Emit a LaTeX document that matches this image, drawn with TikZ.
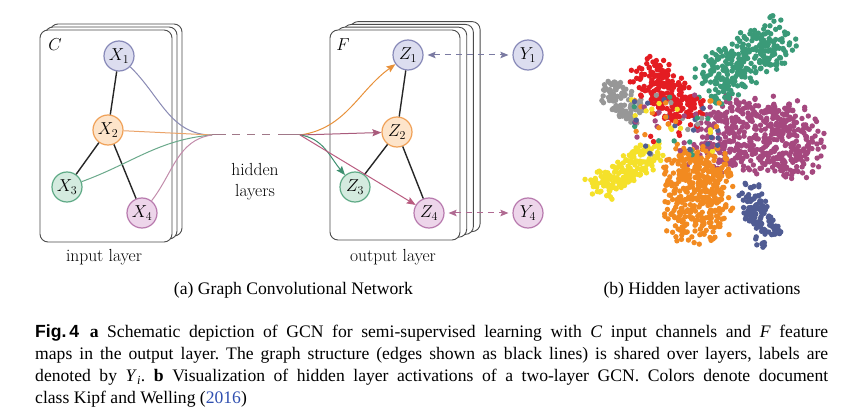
\documentclass[tikz,border=0pt]{standalone}
\usepackage{fontspec}
\newfontfamily\capfont{Liberation Serif}
\newfontfamily\figfont{Liberation Sans}
\usetikzlibrary{arrows.meta}
\definecolor{bFill}{HTML}{DCDDEF}\definecolor{bDraw}{HTML}{8789B8}
\definecolor{oFill}{HTML}{FDE4CA}\definecolor{oDraw}{HTML}{F0A158}
\definecolor{gFill}{HTML}{D4EBDF}\definecolor{gDraw}{HTML}{5FAA86}
\definecolor{pFill}{HTML}{EDD5EA}\definecolor{pDraw}{HTML}{B87AAE}
\definecolor{eBlue}{HTML}{8A8BB5}\definecolor{eOrange}{HTML}{EBA46A}
\definecolor{eGreen}{HTML}{6AA98B}\definecolor{ePink}{HTML}{C28CAB}
\definecolor{aOrange}{HTML}{E8913A}\definecolor{aMauve}{HTML}{A95B7C}
\definecolor{aGreen}{HTML}{3E9070}\definecolor{aPink}{HTML}{B95C80}
\definecolor{hidCol}{HTML}{A07888}
\definecolor{yBlue}{HTML}{7A7AA2}\definecolor{yPink}{HTML}{B06A92}
\definecolor{linkblue}{HTML}{2F4FB0}
\definecolor{cGreen}{HTML}{3A9A78}\definecolor{cRed}{HTML}{E41C22}
\definecolor{cGray}{HTML}{979797}\definecolor{cMag}{HTML}{A5487F}
\definecolor{cYel}{HTML}{F5E12A}\definecolor{cOrg}{HTML}{F28A20}
\definecolor{cBlue}{HTML}{505C93}
\newcommand\gcnCluster[7]{%
  \foreach \k in {1,...,#7}{%
    \pgfmathsetmacro\uu{rand*0.85+rand*0.3}%
    \pgfmathsetmacro\vv{rand*0.85+rand*0.3}%
    \pgfmathsetmacro\px{#2+\uu*#4*cos(#6)-\vv*#5*sin(#6)}%
    \pgfmathsetmacro\py{#3+\uu*#4*sin(#6)+\vv*#5*cos(#6)}%
    \fill[#1] (\px,\py) circle[radius=2.7pt];
  }}
\tikzset{
  card/.style={draw=black!70, line width=0.9pt, fill=white, rounded corners=8pt},
  gnode/.style={circle, minimum size=30pt, inner sep=0pt, line width=1.2pt,
    font=\fontsize{16.5}{18}\selectfont},
  bnode/.style={gnode, draw=bDraw, fill=bFill},
  onode/.style={gnode, draw=oDraw, fill=oFill},
  grnode/.style={gnode, draw=gDraw, fill=gFill},
  pnode/.style={gnode, draw=pDraw, fill=pFill},
  gedge/.style={line width=1.4pt, black!85},
  fedge/.style={line width=1pt},
  farrow/.style={line width=1pt, -{Stealth[length=9pt,width=7pt,inset=1.5pt]}},
  yarrow/.style={line width=1pt, dash pattern=on 6pt off 5pt,
    {Stealth[length=8pt,width=6.5pt,inset=1.5pt]}-{Stealth[length=8pt,width=6.5pt,inset=1.5pt]},
    shorten <=4pt, shorten >=4pt},
  lbl/.style={font=\fontsize{17.5}{21}\selectfont, inner sep=0pt},
  subcap/.style={font=\capfont\fontsize{17.6}{20}\selectfont, inner sep=0pt},
  capline/.style={font=\capfont\fontsize{17.6}{20}\selectfont\frenchspacing, inner sep=0pt, anchor=base west}
}
\begin{document}
\begin{tikzpicture}[x=1pt,y=1pt]
\fill[white] (0,0) rectangle (847,-417);
\useasboundingbox (0,0) rectangle (847,-417);
% ---- input layer cards
\foreach \k in {2,1,0}{
  \draw[card] (40+5*\k,-30+3*\k) rectangle (172+5*\k,-242+3*\k);
}
% ---- output layer cards
\foreach \k in {3,2,1,0}{
  \draw[card] (330+6.7*\k,-30+2.8*\k) rectangle (460+6.7*\k,-240+2.8*\k);
}
\node[lbl] (lc) at (55,-45) {$C$};
\node[lbl] (lf) at (343,-45) {$F$};
% ---- nodes
\node[bnode] (x1) at (119,-56) {$X_1$};
\node[onode] (x2) at (108,-130) {$X_2$};
\node[grnode] (x3) at (67,-187) {$X_3$};
\node[pnode] (x4) at (142,-213) {$X_4$};
\node[bnode] (z1) at (408,-55) {$Z_1$};
\node[onode] (z2) at (397,-132) {$Z_2$};
\node[grnode] (z3) at (355,-187) {$Z_3$};
\node[pnode] (z4) at (429,-213) {$Z_4$};
\node[bnode] (y1) at (528,-55) {$Y_1$};
\node[pnode] (y4) at (528,-213) {$Y_4$};
\coordinate (cl) at (212,-135);
\coordinate (cr) at (300,-135);
% ---- graph edges
\draw[gedge] (x1) -- (x2);
\draw[gedge] (x2) -- (x3);
\draw[gedge] (x2) -- (x4);
\draw[gedge] (z1) -- (z2);
\draw[gedge] (z2) -- (z3);
\draw[gedge] (z2) -- (z4);
% ---- feature lines
\draw[fedge, eBlue] (x1) to[out=-44, in=180] (cl);
\draw[fedge, eOrange] (x2) -- (cl);
\draw[fedge, eGreen] (x3) to[out=20, in=185] (cl);
\draw[fedge, ePink] (x4) to[out=52, in=188] (cl);
\draw[fedge, hidCol, dash pattern=on 14pt off 6pt on 8pt off 7pt on 8pt off 7pt on 8pt off 8pt on 30pt] (cl) -- (cr);
\draw[farrow, aOrange] (cr) to[out=8, in=216] (z1);
\draw[farrow, aMauve] (cr) -- (z2);
\draw[farrow, aGreen] (cr) to[out=-8, in=130] (z3);
\draw[farrow, aPink] (cr) -- (z4);
\draw[yarrow, yBlue] (z1) -- (y1);
\draw[yarrow, yPink] (z4) -- (y4);
% ---- labels
\node[lbl] (inl) at (104,-257) {input layer};
\node[lbl] (outl) at (393,-257) {output layer};
\node[lbl, align=center] (hid) at (255,-182) {hidden\\layers};
% ---- scatter
\pgfmathsetseed{7}
\gcnCluster{cMag}{758}{-137}{62}{38}{-8}{520}
\gcnCluster{cOrg}{697}{-195}{46}{34}{-95}{380}
\gcnCluster{cGreen}{744}{-62}{50}{24}{35}{290}
\gcnCluster{cRed}{668}{-93}{38}{20}{-45}{200}
\gcnCluster{cGray}{621}{-101}{25}{15}{-40}{100}
\gcnCluster{cYel}{627}{-170}{38}{15}{35}{190}
\gcnCluster{cBlue}{759}{-215}{31}{13}{-65}{110}
\pgfmathdeclarerandomlist{scatcols}{{cGreen}{cRed}{cGray}{cMag}{cYel}{cOrg}{cBlue}}
\foreach \k in {1,...,90}{
  \pgfmathrandomitem{\cc}{scatcols}
  \pgfmathsetmacro\px{675+rand*45}
  \pgfmathsetmacro\py{-125+rand*30}
  \fill[\cc] (\px,\py) circle[radius=2.7pt];
}
% ---- captions
\node[subcap] (capa) at (293.5,-290) {(a) Graph Convolutional Network};
\node[subcap] (capb) at (702,-290) {(b) Hidden layer activations};
\node[capline] (cap1) at (35,-337) {\makebox[793pt][s]{{\figfont\bfseries Fig.\,4}\hspace{0.6em}\textbf{a} Schematic depiction of GCN for semi-supervised learning with \textit{C} input channels and \textit{F} feature}};
\node[capline] (cap2) at (35,-359.5) {\makebox[793pt][s]{maps in the output layer. The graph structure (edges shown as black lines) is shared over layers, labels are}};
\node[capline] (cap3) at (35,-381.5) {\makebox[793pt][s]{denoted by \textit{Y}\textsubscript{\textit{i}}. \textbf{b} Visualization of hidden layer activations of a two-layer GCN. Colors denote document}};
\node[capline] (cap4) at (35,-403) {class Kipf and Welling (\textcolor{linkblue}{2016})};
\end{tikzpicture}
\end{document}
